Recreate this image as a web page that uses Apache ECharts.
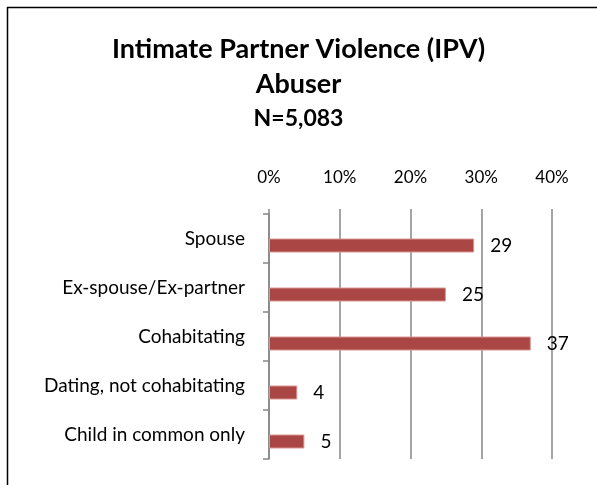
<!DOCTYPE html>
<html>
<head>
<meta charset="utf-8">
<script src="https://cdn.jsdelivr.net/npm/echarts@6/dist/echarts.min.js"></script>
<style>
  html, body { margin: 0; padding: 0; background: #fff; }
  #chart { width: 597px; height: 485px; }
</style>
</head>
<body>
<div id="chart"></div>
<script>
// categories, top to bottom
const categories = ['Spouse', 'Ex-spouse/Ex-partner', 'Cohabitating', 'Dating, not cohabitating', 'Child in common only']
// percent of abusers
const values = [29, 25, 37, 4, 5]
// axis ticks 0%..40%
const xTicks = [0, 10, 20, 30, 40]
// empty slot series (the original chart had a blank second series)
const blank = [null, null, null, null, null]

const font = 'Lato, "Open Sans", sans-serif'
const chart = echarts.init(document.getElementById('chart'))

chart.setOption({
  animation: false,
  textStyle: { fontFamily: font },
  graphic: [
    {
      type: 'rect',
      shape: { x: 7.5, y: 7.5, width: 600, height: 500 },
      style: { fill: 'none', stroke: '#000', lineWidth: 1.5 }
    }
  ],
  title: [
    {
      text: 'Intimate Partner Violence (IPV)',
      left: 'center',
      top: 31,
      textStyle: { fontFamily: font, fontSize: 27, fontWeight: 'bold', color: '#000' }
    },
    {
      text: 'Abuser',
      left: 'center',
      top: 66,
      textStyle: { fontFamily: font, fontSize: 27, fontWeight: 'bold', color: '#000' }
    },
    {
      text: 'N=5,083',
      left: 'center',
      top: 102,
      textStyle: { fontFamily: font, fontSize: 23, fontWeight: 'bold', color: '#000' }
    }
  ],
  grid: { left: 269, right: 45, top: 214, bottom: 26 },
  xAxis: {
    type: 'value',
    position: 'top',
    min: xTicks[0],
    max: xTicks[xTicks.length - 1],
    interval: 10,
    axisLine: { show: false },
    axisTick: { show: true, length: 5, lineStyle: { color: '#868686', width: 1.5 } },
    splitLine: { show: true, lineStyle: { color: '#868686', width: 1.5 } },
    axisLabel: { formatter: '{value}%', fontSize: 17, color: '#000', margin: 28, fontFamily: font }
  },
  yAxis: {
    type: 'category',
    inverse: true,
    data: categories,
    axisLine: { show: true, lineStyle: { color: '#868686', width: 1.5 } },
    axisTick: { show: true, length: 6, lineStyle: { color: '#868686', width: 1.5 } },
    axisLabel: { fontSize: 19, color: '#000', margin: 24, fontFamily: font, padding: [4, 0, 0, 0] }
  },
  series: [
    {
      type: 'bar',
      data: blank,
      barWidth: 14,
      barGap: '0%',
      silent: true
    },
    {
      type: 'bar',
      data: values,
      barWidth: 14,
      barGap: '0%',
      itemStyle: { color: '#AA4643', borderColor: '#D99694', borderWidth: 1 },
      label: {
        show: true,
        position: 'right',
        distance: 16,
        fontSize: 19,
        color: '#000',
        fontFamily: font
      }
    }
  ]
})
</script>
</body>
</html>
